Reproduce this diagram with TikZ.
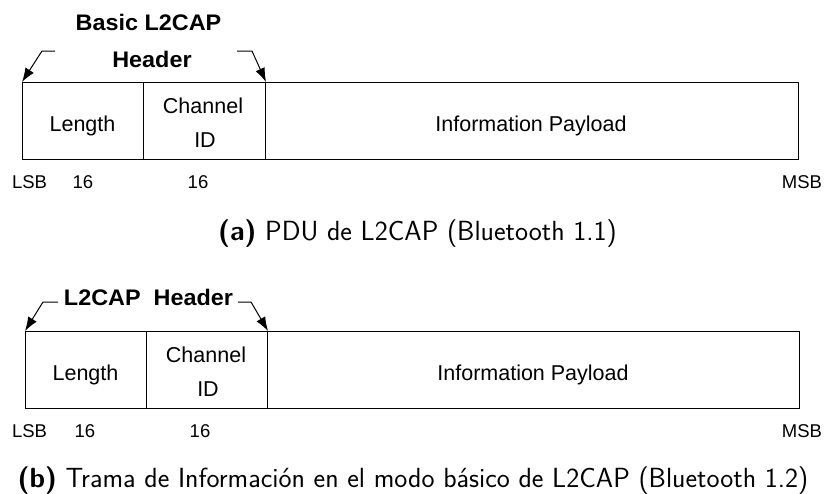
\documentclass[tikz,border=0pt]{standalone}
\usepackage{fontspec}
\newfontfamily\diag{Liberation Sans}
\newfontfamily\diagb[FakeStretch=1.04]{Liberation Sans Bold}
\usetikzlibrary{arrows.meta}
\begin{document}
\begin{tikzpicture}[x=1pt,y=-1pt,
  field/.style={draw, line width=1pt, inner sep=0pt, anchor=north west, minimum height=77pt},
  lbl/.style={font=\diag\fontsize{21.5}{25}\selectfont, inner sep=0pt, anchor=base},
  small/.style={font=\diag\fontsize{18.5}{22}\selectfont, inner sep=0pt, anchor=base},
  hdr/.style={font=\diagb\fontsize{22.5}{26}\selectfont, inner sep=0pt, anchor=base},
  captext/.style={font=\sffamily\fontsize{27.7}{32}\selectfont, inner sep=0pt, anchor=base},
  hdrarrow/.style={line width=1pt, -{Latex[length=14pt,width=10pt]}}]
\useasboundingbox (0,0) rectangle (826,493);

% ---------- (a) ----------
\node[field, minimum width=121pt] (aLen) at (22,82) {};
\node[field, minimum width=122pt] (aCh) at (143,82) {};
\node[field, minimum width=533pt] (aPay) at (265,82) {};
\node[lbl] (aLenT) at (82.5,131) {Length};
\node[lbl] (aChT) at (203,113) {Channel};
\node[lbl] (aIDT) at (205,147) {ID};
\node[lbl] (aPayT) at (531,131) {Information Payload};
\node[hdr] (aH1) at (148.5,30) {Basic L2CAP};
\node[hdr] (aH2) at (152,67) {Header};
\coordinate (aL0) at (55,51);
\coordinate (aL1) at (42,51);
\coordinate (aR0) at (237,51);
\coordinate (aR1) at (252,51);
\draw[hdrarrow] (aL0) -- (aL1) -- (aLen.north west);
\draw[hdrarrow] (aR0) -- (aR1) -- (aCh.north east);
\node[small] (aLSB) at (29.5,188) {LSB};
\node[small] (a16a) at (83,188) {16};
\node[small] (a16b) at (198,188) {16};
\node[small] (aMSB) at (802,188) {MSB};
\node[captext] (capA) at (417.5,240) {\textbf{(a)} PDU de L2CAP (Bluetooth 1.1)};

% ---------- (b) ----------
\node[field, minimum width=121pt] (bLen) at (25,331) {};
\node[field, minimum width=121pt] (bCh) at (146,331) {};
\node[field, minimum width=532pt] (bPay) at (267,331) {};
\node[lbl] (bLenT) at (85.5,380) {Length};
\node[lbl] (bChT) at (206,362) {Channel};
\node[lbl] (bIDT) at (208,396) {ID};
\node[lbl] (bPayT) at (533,380) {Information Payload};
\node[hdr] (bH) at (148.5,305) {L2CAP\ \ Header};
\coordinate (bL0) at (58,302);
\coordinate (bL1) at (43,302);
\coordinate (bR0) at (238,302);
\coordinate (bR1) at (251,302);
\draw[hdrarrow] (bL0) -- (bL1) -- (bLen.north west);
\draw[hdrarrow] (bR0) -- (bR1) -- (bCh.north east);
\node[small] (bLSB) at (29.5,437) {LSB};
\node[small] (b16a) at (85,437) {16};
\node[small] (b16b) at (200,437) {16};
\node[small] (bMSB) at (802,437) {MSB};
\node[captext] (capB) at (413,487) {\textbf{(b)} Trama de Información en el modo básico de L2CAP (Bluetooth 1.2)};
\end{tikzpicture}
\end{document}
